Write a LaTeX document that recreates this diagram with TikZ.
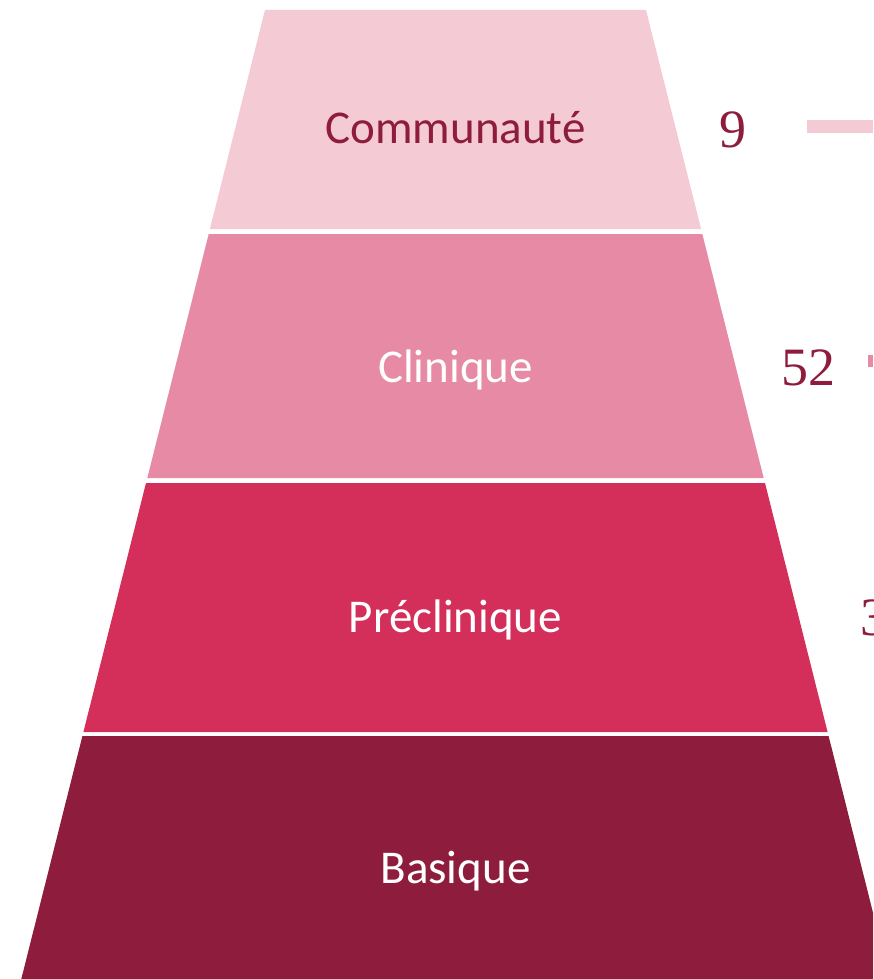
\documentclass[tikz,border=0pt]{standalone}
\usepackage{fontspec}
\setmainfont{Carlito}
\newfontfamily\numfont{Liberation Serif}
\definecolor{levelone}{HTML}{F4CAD5}
\definecolor{leveltwo}{HTML}{E78AA5}
\definecolor{levelthree}{HTML}{D42F5A}
\definecolor{levelfour}{HTML}{8E1C3C}

\begin{document}
\begin{tikzpicture}[x=1pt, y=-1pt,
    level/.style={anchor=base, inner sep=0pt, text=white, font=\fontsize{47}{56}\selectfont},
    count/.style={anchor=base west, inner sep=0pt, text=levelfour, font=\numfont\fontsize{54}{64}\selectfont}]
    \clip (0,0) rectangle (873,979);
    % pyramid bands, top to bottom
    \fill[levelone] (265,10) -- (646,10) -- (701.1,229) -- (209.9,229) -- cycle;
    \fill[leveltwo] (208.7,234) -- (702.3,234) -- (763.7,478) -- (147.3,478) -- cycle;
    \fill[levelthree] (146,483) -- (765,483) -- (827.6,732) -- (83.4,732) -- cycle;
    \fill[levelfour] (82.4,736) -- (828.6,736) -- (889.7,979) -- (21.3,979) -- cycle;
    \node[level, text=levelfour] (communaute) at (455.5,143) {Communauté};
    \node[level] (clinique) at (455.5,382) {Clinique};
    \node[level] (preclinique) at (455.5,632) {Préclinique};
    \node[level] (basique) at (455.5,883) {Basique};
    % counts and bars on the right
    \node[count] (nine) at (719,147) {9};
    \node[count] (fiftytwo) at (781,385) {52};
    \node[count] (three) at (860,635) {3};
    \fill[levelone] (807,120) rectangle (873,133);
    \fill[leveltwo] (868,355) rectangle (873,367);
\end{tikzpicture}
\end{document}
